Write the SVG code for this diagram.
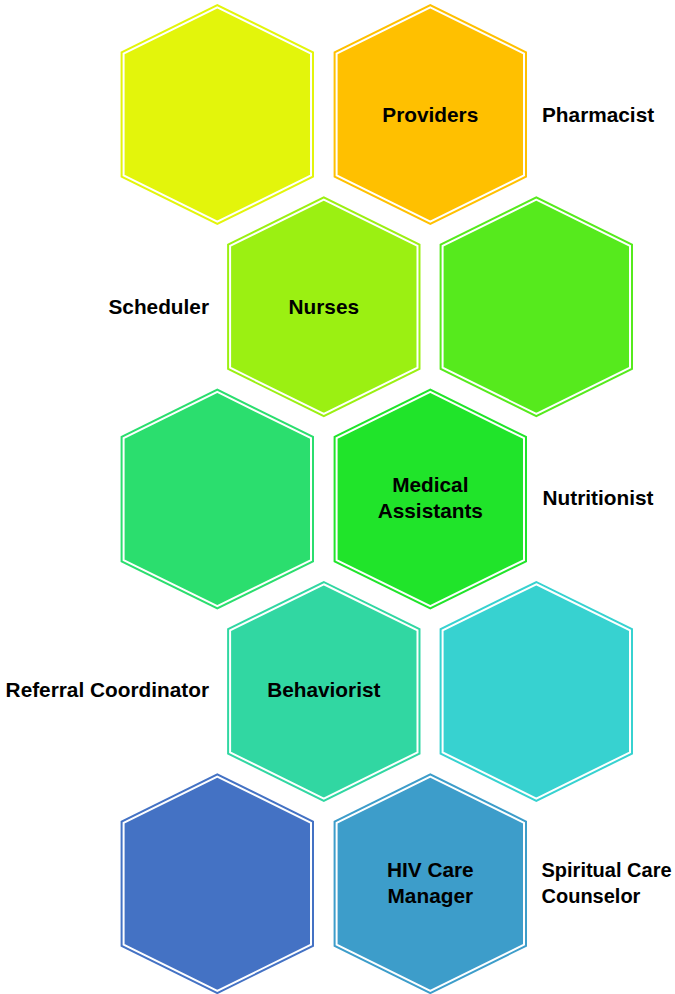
<svg xmlns="http://www.w3.org/2000/svg" xmlns:xlink="http://www.w3.org/1999/xlink" width="675" height="994" viewBox="0 0 675 994">
<defs>
<style>
.gap{fill:none;stroke:#ffffff;stroke-width:2;stroke-linejoin:miter}
text{font-family:"Liberation Sans",Arial,sans-serif;font-weight:bold;font-size:20.8px;fill:#000}
.c{text-anchor:middle}
.e{text-anchor:end}
.s{font-size:20px}
</style>
<polygon id="hexo" points="0,-110.5 96.7,-62.8 96.7,62.8 0,110.5 -96.7,62.8 -96.7,-62.8"/>
<polygon id="hexi" points="0,-107.15 93.7,-60.93 93.7,60.93 0,107.15 -93.7,60.93 -93.7,-60.93"/>
</defs>
<rect width="675" height="994" fill="#ffffff"/>
<g id="connectors"></g>
<g id="hex-r0-left" transform="translate(217.3,114.5)"><use xlink:href="#hexo" fill="#E3F50B"/><use xlink:href="#hexi" class="gap"/></g>
<g id="providers" transform="translate(430.3,114.5)"><use xlink:href="#hexo" fill="#FFC000"/><use xlink:href="#hexi" class="gap"/><text class="c" x="0" y="7.2">Providers</text></g>
<g id="nurses" transform="translate(323.8,306.8)"><use xlink:href="#hexo" fill="#9BF012"/><use xlink:href="#hexi" class="gap"/><text class="c" x="0" y="7.2">Nurses</text></g>
<g id="hex-r1-right" transform="translate(536.3,306.8)"><use xlink:href="#hexo" fill="#56EA1D"/><use xlink:href="#hexi" class="gap"/></g>
<g id="hex-r2-left" transform="translate(217.3,499.1)"><use xlink:href="#hexo" fill="#2BDE6E"/><use xlink:href="#hexi" class="gap"/></g>
<g id="medical-assistants" transform="translate(430.3,499.1)"><use xlink:href="#hexo" fill="#20E42A"/><use xlink:href="#hexi" class="gap"/><text class="c" x="0" y="-6.8">Medical</text><text class="c" x="0" y="19.2">Assistants</text></g>
<g id="behaviorist" transform="translate(323.8,691.4)"><use xlink:href="#hexo" fill="#31D7A2"/><use xlink:href="#hexi" class="gap"/><text class="c" x="0" y="6">Behaviorist</text></g>
<g id="hex-r3-right" transform="translate(536.3,691.4)"><use xlink:href="#hexo" fill="#37D2D0"/><use xlink:href="#hexi" class="gap"/></g>
<g id="hex-r4-left" transform="translate(217.3,883.7)"><use xlink:href="#hexo" fill="#4472C4"/><use xlink:href="#hexi" class="gap"/></g>
<g id="hiv-care-manager" transform="translate(430.3,883.7)"><use xlink:href="#hexo" fill="#3D9DCA"/><use xlink:href="#hexi" class="gap"/><text class="c" x="0" y="-7">HIV Care</text><text class="c" x="0" y="19.6">Manager</text></g>
<g id="label-pharmacist"><text x="542" y="121.7">Pharmacist</text></g>
<g id="label-scheduler"><text class="e" x="209" y="314">Scheduler</text></g>
<g id="label-nutritionist"><text x="542.5" y="505">Nutritionist</text></g>
<g id="label-referral"><text class="e" x="209" y="697.3">Referral Coordinator</text></g>
<g id="label-spiritual"><text class="s" x="541.5" y="876.7">Spiritual Care</text><text class="s" x="541.5" y="903.3">Counselor</text></g>
</svg>
